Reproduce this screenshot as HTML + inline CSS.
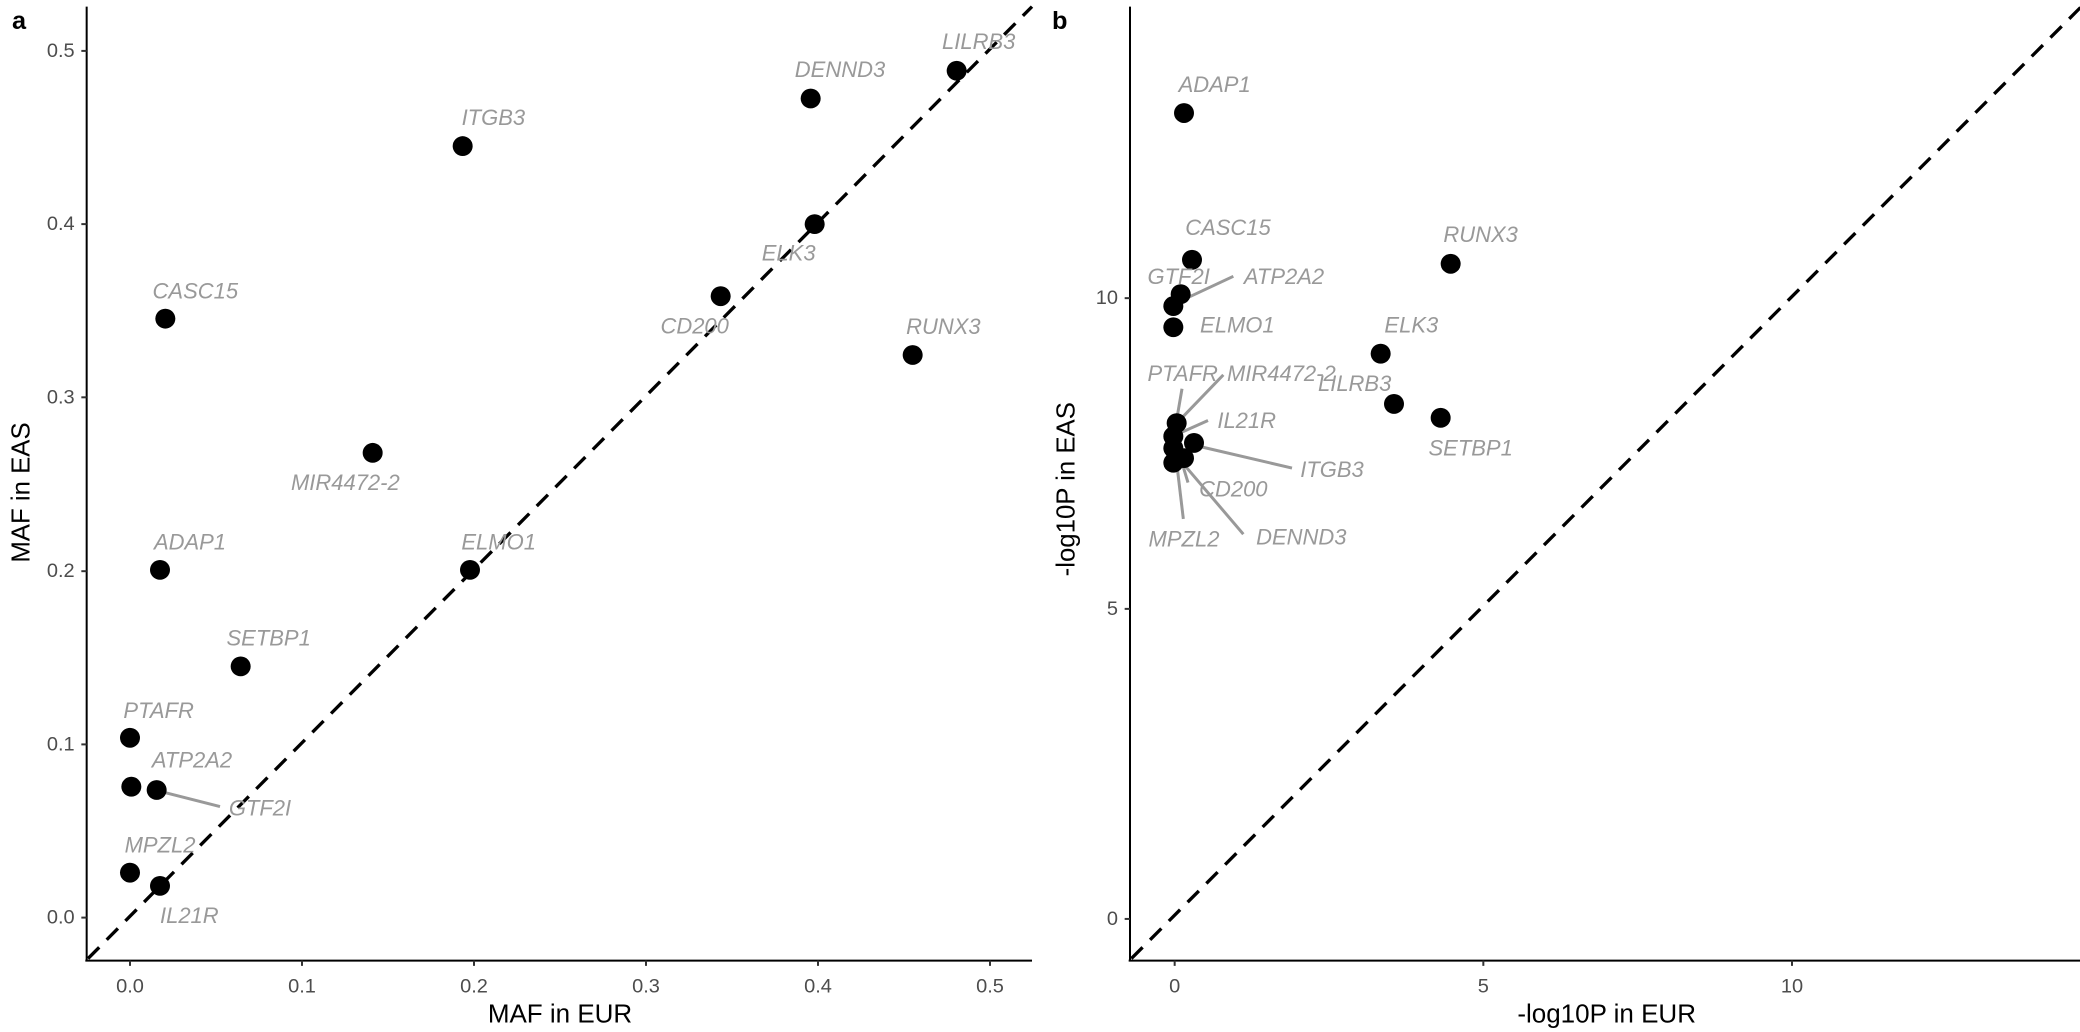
<!DOCTYPE html>
<html><head><meta charset="utf-8"><style>
html,body{margin:0;padding:0;background:#fff;}
svg{display:block;font-family:"Liberation Sans",Arial,sans-serif;}
.lab{font-style:italic;fill:#999;font-size:33px;text-anchor:middle;dominant-baseline:central;}
.tk{fill:#4d4d4d;font-size:30px;dominant-baseline:central;}
.ttl{fill:#000;font-size:39px;text-anchor:middle;dominant-baseline:central;}
.seg{stroke:#999;stroke-width:4.5;}
</style></head><body>
<svg width="2080" height="1032" viewBox="0 0 2080 1032" xmlns="http://www.w3.org/2000/svg">
<g transform="scale(0.66667,0.6611)">
  <text x="18" y="32" font-size="38" font-weight="bold" dominant-baseline="central">a</text>
  <line x1="130" y1="10" x2="130" y2="1454" stroke="#000" stroke-width="3"/>
  <line x1="128" y1="1453" x2="1548" y2="1453" stroke="#000" stroke-width="3"/>
  <g stroke="#333" stroke-width="3">
    <line x1="195" y1="1453" x2="195" y2="1461"/><line x1="453" y1="1453" x2="453" y2="1461"/><line x1="711" y1="1453" x2="711" y2="1461"/><line x1="969" y1="1453" x2="969" y2="1461"/><line x1="1227" y1="1453" x2="1227" y2="1461"/><line x1="1485" y1="1453" x2="1485" y2="1461"/>
    <line x1="122" y1="1388" x2="130" y2="1388"/><line x1="122" y1="1126" x2="130" y2="1126"/><line x1="122" y1="864" x2="130" y2="864"/><line x1="122" y1="601" x2="130" y2="601"/><line x1="122" y1="339" x2="130" y2="339"/><line x1="122" y1="77" x2="130" y2="77"/>
  </g>
  <g class="tk" text-anchor="middle">
    <text x="195" y="1492">0.0</text><text x="453" y="1492">0.1</text><text x="711" y="1492">0.2</text><text x="969" y="1492">0.3</text><text x="1227" y="1492">0.4</text><text x="1485" y="1492">0.5</text>
  </g>
  <g class="tk" text-anchor="end">
    <text x="112" y="1388">0.0</text><text x="112" y="1126">0.1</text><text x="112" y="864">0.2</text><text x="112" y="601">0.3</text><text x="112" y="339">0.4</text><text x="112" y="77">0.5</text>
  </g>
  <text class="ttl" x="840" y="1535">MAF in EUR</text>
  <text class="ttl" transform="translate(32,745) rotate(-90)" x="0" y="0">MAF in EAS</text>
  <line x1="132" y1="1450" x2="1548" y2="10" stroke="#000" stroke-width="5" stroke-dasharray="24,16"/>
  <line class="seg" x1="240" y1="1197" x2="330" y2="1220"/>
  <g fill="#000">
    <circle cx="1435" cy="107" r="15"/><circle cx="1216" cy="149" r="15"/><circle cx="694" cy="221" r="15"/><circle cx="1222" cy="339" r="15"/><circle cx="1081" cy="448" r="15"/><circle cx="248" cy="482" r="15"/><circle cx="1369" cy="537" r="15"/><circle cx="559" cy="685" r="15"/><circle cx="240" cy="862" r="15"/><circle cx="705" cy="862" r="15"/><circle cx="361" cy="1008" r="15"/><circle cx="195" cy="1116" r="15"/><circle cx="197" cy="1190" r="15"/><circle cx="235" cy="1195" r="15"/><circle cx="195" cy="1320" r="15"/><circle cx="240" cy="1340" r="15"/>
  </g>
  <g class="lab">
    <text x="1468" y="63">LILRB3</text><text x="1260" y="105">DENND3</text><text x="740" y="178">ITGB3</text><text x="1183" y="383">ELK3</text><text x="1042" y="493">CD200</text><text x="293" y="440">CASC15</text><text x="1415" y="494">RUNX3</text><text x="518" y="730">MIR4472-2</text><text x="285" y="820">ADAP1</text><text x="748" y="820">ELMO1</text><text x="403" y="965">SETBP1</text><text x="238" y="1075">PTAFR</text><text x="288" y="1150">ATP2A2</text><text x="390" y="1222">GTF2I</text><text x="240" y="1278">MPZL2</text><text x="284" y="1385">IL21R</text>
  </g>
</g>
<g transform="translate(1040,0) scale(0.66667,0.6611)">
  <text x="18" y="32" font-size="38" font-weight="bold" dominant-baseline="central">b</text>
  <line x1="135" y1="10" x2="135" y2="1454" stroke="#000" stroke-width="3"/>
  <line x1="133" y1="1453" x2="1562" y2="1453" stroke="#000" stroke-width="3"/>
  <g stroke="#333" stroke-width="3">
    <line x1="202" y1="1453" x2="202" y2="1461"/><line x1="665" y1="1453" x2="665" y2="1461"/><line x1="1128" y1="1453" x2="1128" y2="1461"/>
    <line x1="127" y1="1390" x2="135" y2="1390"/><line x1="127" y1="921" x2="135" y2="921"/><line x1="127" y1="451" x2="135" y2="451"/>
  </g>
  <g class="tk" text-anchor="middle">
    <text x="202" y="1492">0</text><text x="665" y="1492">5</text><text x="1128" y="1492">10</text>
  </g>
  <g class="tk" text-anchor="end">
    <text x="117" y="1390">0</text><text x="117" y="921">5</text><text x="117" y="451">10</text>
  </g>
  <text class="ttl" x="850" y="1535">-log10P in EUR</text>
  <text class="ttl" transform="translate(40,740) rotate(-90)" x="0" y="0">-log10P in EAS</text>
  <line x1="137" y1="1450" x2="1562" y2="10" stroke="#000" stroke-width="5" stroke-dasharray="24,16"/>
  <g>
    <line class="seg" x1="205" y1="458" x2="290" y2="418"/>
    <line class="seg" x1="205" y1="635" x2="213" y2="588"/>
    <line class="seg" x1="210" y1="635" x2="275" y2="567"/>
    <line class="seg" x1="210" y1="655" x2="252" y2="636"/>
    <line class="seg" x1="238" y1="675" x2="378" y2="708"/>
    <line class="seg" x1="210" y1="690" x2="222" y2="730"/>
    <line class="seg" x1="205" y1="700" x2="215" y2="785"/>
    <line class="seg" x1="212" y1="698" x2="305" y2="808"/>
  </g>
  <g fill="#000">
    <circle cx="216" cy="171" r="15"/><circle cx="228" cy="393" r="15"/><circle cx="616" cy="399" r="15"/><circle cx="211" cy="445" r="15"/><circle cx="200" cy="463" r="15"/><circle cx="200" cy="495" r="15"/><circle cx="511" cy="535" r="15"/><circle cx="531" cy="611" r="15"/><circle cx="601" cy="632" r="15"/><circle cx="205" cy="640" r="15"/><circle cx="200" cy="660" r="15"/><circle cx="200" cy="678" r="15"/><circle cx="231" cy="670" r="15"/><circle cx="216" cy="693" r="15"/><circle cx="200" cy="700" r="15"/>
  </g>
  <g class="lab">
    <text x="262" y="128">ADAP1</text><text x="282" y="344">CASC15</text><text x="661" y="355">RUNX3</text><text x="208" y="418">GTF2I</text><text x="366" y="418">ATP2A2</text><text x="296" y="492">ELMO1</text><text x="557" y="492">ELK3</text><text x="214" y="565">PTAFR</text><text x="362" y="565">MIR4472-2</text><text x="472" y="580">LILRB3</text><text x="310" y="636">IL21R</text><text x="438" y="710">ITGB3</text><text x="290" y="740">CD200</text><text x="216" y="815">MPZL2</text><text x="392" y="812">DENND3</text><text x="646" y="678">SETBP1</text>
  </g>
</g>
</svg>
</body></html>
